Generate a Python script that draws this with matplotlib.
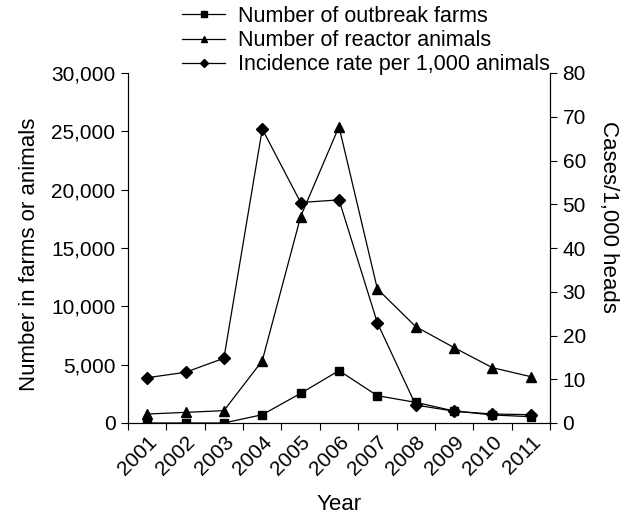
import matplotlib
matplotlib.use("Agg")
import matplotlib.pyplot as plt
from matplotlib.ticker import FuncFormatter
import numpy as np

years = ["2001", "2002", "2003", "2004", "2005", "2006", "2007", "2008", "2009", "2010", "2011"]
outbreak_farms = [0, 0, 0, 710, 2540, 4490, 2340, 1770, 1030, 690, 540]
reactor_animals = [770, 910, 1060, 5340, 17690, 25400, 11490, 8260, 6460, 4740, 3970]
incidence_rate = [10.35, 11.6, 14.8, 67.2, 50.4, 51.0, 22.9, 4.1, 2.7, 2.05, 1.9]

plt.rcParams['font.family'] = ['Liberation Sans', 'DejaVu Sans']
plt.rcParams['font.size'] = 15.5

fig = plt.figure(figsize=(6.32, 5.18), dpi=100)
ax = fig.add_axes([128/632, 1-423/518, (550-128)/632, (423-73)/518])
ax2 = ax.twinx()

x = np.arange(len(years)) + 0.5
lw = 0.9
l1, = ax.plot(x, outbreak_farms, color='black', lw=lw, marker='s', ms=6, label='Number of outbreak farms')
l2, = ax.plot(x, reactor_animals, color='black', lw=lw, marker='^', ms=7.5, label='Number of reactor animals')
l3, = ax2.plot(x, incidence_rate, color='black', lw=lw, marker='D', ms=6, label='Incidence rate per 1,000 animals')

ax.set_xlim(0, len(years))
ax.set_ylim(0, 30000)
ax2.set_ylim(0, 80)
ax.set_yticks(np.arange(0, 30001, 5000))
ax.yaxis.set_major_formatter(FuncFormatter(lambda v, p: f"{int(v):,}"))
ax2.set_yticks(np.arange(0, 81, 10))

ax.set_xticks(np.arange(0, len(years) + 1))
ax.set_xticklabels([])
ax.set_xticks(x, minor=True)
ax.set_xticklabels(years, minor=True, rotation=45, ha='right', rotation_mode='anchor')
ax.tick_params(axis='x', which='minor', length=0, pad=7, labelsize=15)
ax.tick_params(axis='x', which='major', length=5, direction='out', width=0.8)
ax.tick_params(axis='y', length=5, direction='out', width=0.8, pad=4, labelsize=15)
ax2.tick_params(axis='y', length=5, direction='out', width=0.8, pad=4, labelsize=15)

for a in (ax, ax2):
    a.spines['top'].set_visible(False)
    for s in a.spines.values():
        s.set_linewidth(0.8)

ax.set_xlabel('Year', fontsize=16)
ax.xaxis.set_label_coords(0.5, -(505 - 423) / 350, transform=ax.transAxes)
ax.set_ylabel('Number in farms or animals', fontsize=16)
ax.yaxis.set_label_coords((30 - 128) / 422, 0.483, transform=ax.transAxes)
ax2.set_ylabel('Cases/1,000 heads', rotation=270, fontsize=16, va='center')
ax2.yaxis.set_label_coords((608 - 128) / 422, 0.589, transform=ax.transAxes)
ax.xaxis.label.set_va('center')
ax.yaxis.label.set_va('center')

fig.legend(handles=[l1, l2, l3], loc='upper left', bbox_to_anchor=(182/632, 1 - 6/518),
           frameon=False, markerscale=0.65, handlelength=2.0, handletextpad=0.6,
           labelspacing=0.15, borderpad=0.0, borderaxespad=0.0)

fig.savefig('out.png', dpi=100)
